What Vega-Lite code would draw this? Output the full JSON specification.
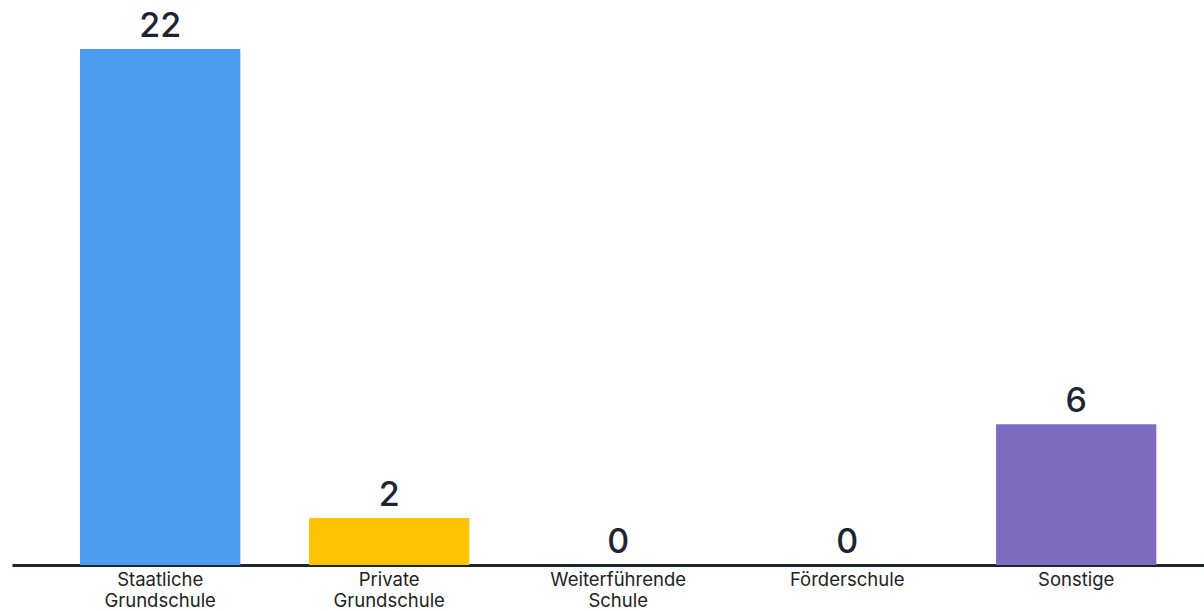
{
  "$schema": "https://vega.github.io/schema/vega-lite/v6.json",
  "autosize": {"type": "none"},
  "padding": {"left": 12, "top": 0, "right": 0, "bottom": 46},
  "width": 1192,
  "height": 565,
  "background": "white",
  "config": {"view": {"stroke": null}},
  "data": {"values": [
    {"kategorie": "Staatliche Grundschule", "anzahl": 22, "farbe": "#4D9BEF"},
    {"kategorie": "Private Grundschule", "anzahl": 2, "farbe": "#FFC300"},
    {"kategorie": "Weiterführende Schule", "anzahl": 0, "farbe": "#4CAF50"},
    {"kategorie": "Förderschule", "anzahl": 0, "farbe": "#E5534B"},
    {"kategorie": "Sonstige", "anzahl": 6, "farbe": "#7E6BBF"}
  ]},
  "encoding": {
    "x": {
      "field": "kategorie", "type": "nominal", "sort": null,
      "scale": {"paddingInner": 0.3, "paddingOuter": 0.2526, "align": 0.588},
      "axis": {
        "title": null, "ticks": false, "domainColor": "#1f2433", "domainWidth": 3,
        "labelAngle": 0, "labelFont": "Inter", "labelFontSize": 18.5, "labelColor": "#222222",
        "labelPadding": 5, "labelLineHeight": 21,
        "labelExpr": "split(datum.label, ' ')"
      }
    },
    "y": {
      "field": "anzahl", "type": "quantitative",
      "scale": {"domain": [0, 24.09], "nice": false},
      "axis": null
    }
  },
  "layer": [
    {"mark": {"type": "bar"}, "encoding": {"color": {"field": "farbe", "type": "nominal", "scale": null}}},
    {"mark": {"type": "text", "baseline": "alphabetic", "dy": -12, "font": "Inter", "fontSize": 34, "fontWeight": 500, "color": "#1f2433"},
     "encoding": {"text": {"field": "anzahl", "type": "quantitative"}}}
  ]
}
